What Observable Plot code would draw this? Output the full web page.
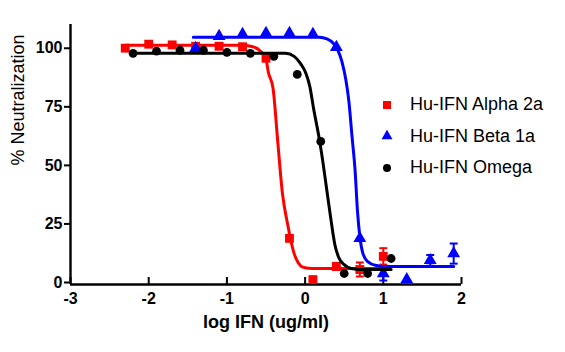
<!DOCTYPE html>
<html><head><meta charset="utf-8">
<script src="https://cdn.jsdelivr.net/npm/d3@7"></script>
<script src="https://cdn.jsdelivr.net/npm/@observablehq/plot@0.6"></script>
<style>
body{margin:0;background:#fff;}
#wrap{position:relative;width:565px;height:352px;font-family:Arial,"Liberation Sans",sans-serif;}
#legend{position:absolute;left:379px;top:89px;font-size:18px;color:#000;}
.row{display:flex;align-items:center;height:31.5px;white-space:nowrap;}
.row svg{margin-right:15px;display:block}
</style></head><body><div id="wrap"><div id="legend"></div></div>
<script>
// ---- tick labels ----
const xTicks = [-3, -2, -1, 0, 1, 2];
const yTicks = [0, 25, 50, 75, 100];
const seriesNames = ["Hu-IFN Alpha 2a", "Hu-IFN Beta 1a", "Hu-IFN Omega"];
const seriesColors = ["#ff0000", "#0000ff", "#000000"];
const seriesSymbols = ["square", "triangle", "circle"];

// ---- measured points ----
const alphaX = [-2.3, -2.0, -1.7, -1.4, -1.1, -0.8, -0.5, -0.2, 0.1, 0.4, 0.7, 1.0];
const alphaY = [100.9, 102.6, 102.3, 101.7, 101.7, 101.5, 96.6, 19.7, 2.1, 7.7, 6.4, 12.0];
const alphaErr = [0, 0, 0, 0, 0, 0, 0, 0, 0, 1.5, 3.0, 3.5];

const betaX = [-1.4, -1.1, -0.8, -0.5, -0.2, 0.1, 0.4, 0.7, 1.0, 1.3, 1.6, 1.9];
const betaY = [100.9, 106.0, 106.8, 107.3, 107.3, 106.8, 101.3, 19.7, 4.7, 2.1, 10.3, 13.2];
const betaErr = [0, 0, 0, 0, 0, 0, 0, 0, 3.0, 0, 2.3, 4.3];

const omegaX = [-2.2, -1.9, -1.6, -1.3, -1.0, -0.7, -0.4, -0.1, 0.2, 0.5, 0.8, 1.1];
const omegaY = [98.7, 99.6, 100.0, 100.0, 99.1, 98.7, 97.4, 89.7, 61.1, 4.7, 4.7, 11.1];
const omegaErr = [0, 0, 0, 0, 0, 0, 0, 0, 0, 0, 0, 0];

// ---- fitted curves ----
const alphaFitX = [-2.3, -0.82, -0.67, -0.57, -0.50, -0.47, -0.41, -0.35, -0.29, -0.22, -0.18, -0.14, -0.09, -0.02, 0.10, 1.0];
const alphaFitY = [102.1, 102.1, 101.5, 99.6, 96.2, 90.6, 83.8, 61.1, 38.9, 25.2, 18.4, 13.2, 9.4, 7.3, 6.8, 6.8];

const betaFitX = [-1.43, 0.18, 0.28, 0.36, 0.42, 0.47, 0.52, 0.56, 0.60, 0.64, 0.67, 0.70, 0.74, 0.80, 0.91, 1.03, 1.9];
const betaFitY = [105.6, 105.6, 104.9, 103.0, 100.0, 95.3, 87.6, 78.2, 63.2, 48.3, 31.2, 20.5, 13.2, 9.8, 8.1, 7.7, 7.7];

const omegaFitX = [-2.2, -0.25, -0.14, -0.06, 0.01, 0.06, 0.11, 0.18, 0.23, 0.28, 0.33, 0.38, 0.43, 0.50, 0.59, 0.71, 1.1];
const omegaFitY = [98.7, 98.7, 97.4, 94.4, 90.2, 84.6, 74.8, 62.4, 51.7, 39.7, 27.8, 17.1, 11.5, 8.5, 6.8, 6.4, 6.4];

// ---- build tables ----
const pts = (X, Y, E) => X.map((x, i) => ({x, y: Y[i], e: E[i]}));
const fit = (X, Y) => X.map((x, i) => ({x, y: Y[i]}));
const points = [pts(alphaX, alphaY, alphaErr), pts(betaX, betaY, betaErr), pts(omegaX, omegaY, omegaErr)];
const fits = [fit(alphaFitX, alphaFitY), fit(betaFitX, betaFitY), fit(omegaFitX, omegaFitY)];
const symbolR = [5.0, 4.8, 4.4];

const capSymbol = {draw(ctx, size) { const w = Math.sqrt(size) / 2; ctx.moveTo(-w, 0); ctx.lineTo(w, 0); }};

const seriesMarks = [];
for (let s = 0; s < 3; s++) {
  const c = seriesColors[s];
  const errs = points[s].filter(d => d.e > 0);
  seriesMarks.push(
    Plot.line(fits[s], {x: "x", y: "y", curve: "monotone-x", stroke: c, strokeWidth: 3}),
    Plot.ruleX(errs, {x: "x", y1: d => d.y - d.e, y2: d => d.y + d.e, stroke: c, strokeWidth: 2}),
    Plot.dot(errs, {x: "x", y: d => d.y + d.e, symbol: capSymbol, r: 4.5, stroke: c, fill: "none", strokeWidth: 2}),
    Plot.dot(errs, {x: "x", y: d => d.y - d.e, symbol: capSymbol, r: 4.5, stroke: c, fill: "none", strokeWidth: 2}),
    Plot.dot(points[s], {x: "x", y: "y", symbol: seriesSymbols[s], r: symbolR[s], fill: c, stroke: "none"})
  );
}

const fmt = d => String(d);

const chart = Plot.plot({
  width: 565, height: 352,
  marginLeft: 70, marginRight: 104, marginTop: 24, marginBottom: 68,
  x: {domain: [-3, 2]},
  y: {domain: [0, 111]},
  style: {fontFamily: "Arial, 'Liberation Sans', sans-serif", color: "#000", background: "#fff", overflow: "visible"},
  marks: [
    Plot.axisX({ticks: xTicks, tickSize: 7, dy: -7, tickFormat: () => "", strokeWidth: 2, label: null}),
    Plot.axisX({ticks: xTicks, tickSize: 0, tickPadding: 8, tickFormat: fmt, fontSize: 16, fontWeight: "bold", label: null}),
    Plot.axisY({ticks: yTicks, tickSize: 6, tickPadding: 2, tickFormat: fmt, dy: -2, fontSize: 16, fontWeight: "bold", strokeWidth: 2, label: null}),
    Plot.ruleY([0], {strokeWidth: 2.4, stroke: "#000"}),
    Plot.ruleX([-3], {strokeWidth: 2.4, stroke: "#000"}),
    Plot.text(["% Neutralization"], {frameAnchor: "left", rotate: -90, dx: -52, dy: 11, fontSize: 18}),
    Plot.text(["log IFN (ug/ml)"], {frameAnchor: "bottom", dy: 43, fontSize: 18, fontWeight: "bold"}),
    ...seriesMarks
  ]
});
document.getElementById("wrap").prepend(chart);

// ---- legend ----
const legend = document.getElementById("legend");
seriesNames.forEach((name, i) => {
  const row = document.createElement("div");
  row.className = "row";
  const svg = d3.create("svg").attr("width", 16).attr("height", 16);
  svg.append("path")
    .attr("transform", "translate(8,8)")
    .attr("d", d3.symbol([d3.symbolSquare, d3.symbolTriangle, d3.symbolCircle][i], [64, 52, 50][i])())
    .attr("fill", seriesColors[i]);
  row.appendChild(svg.node());
  const span = document.createElement("span");
  span.textContent = name;
  row.appendChild(span);
  legend.appendChild(row);
});
</script>
</body></html>
